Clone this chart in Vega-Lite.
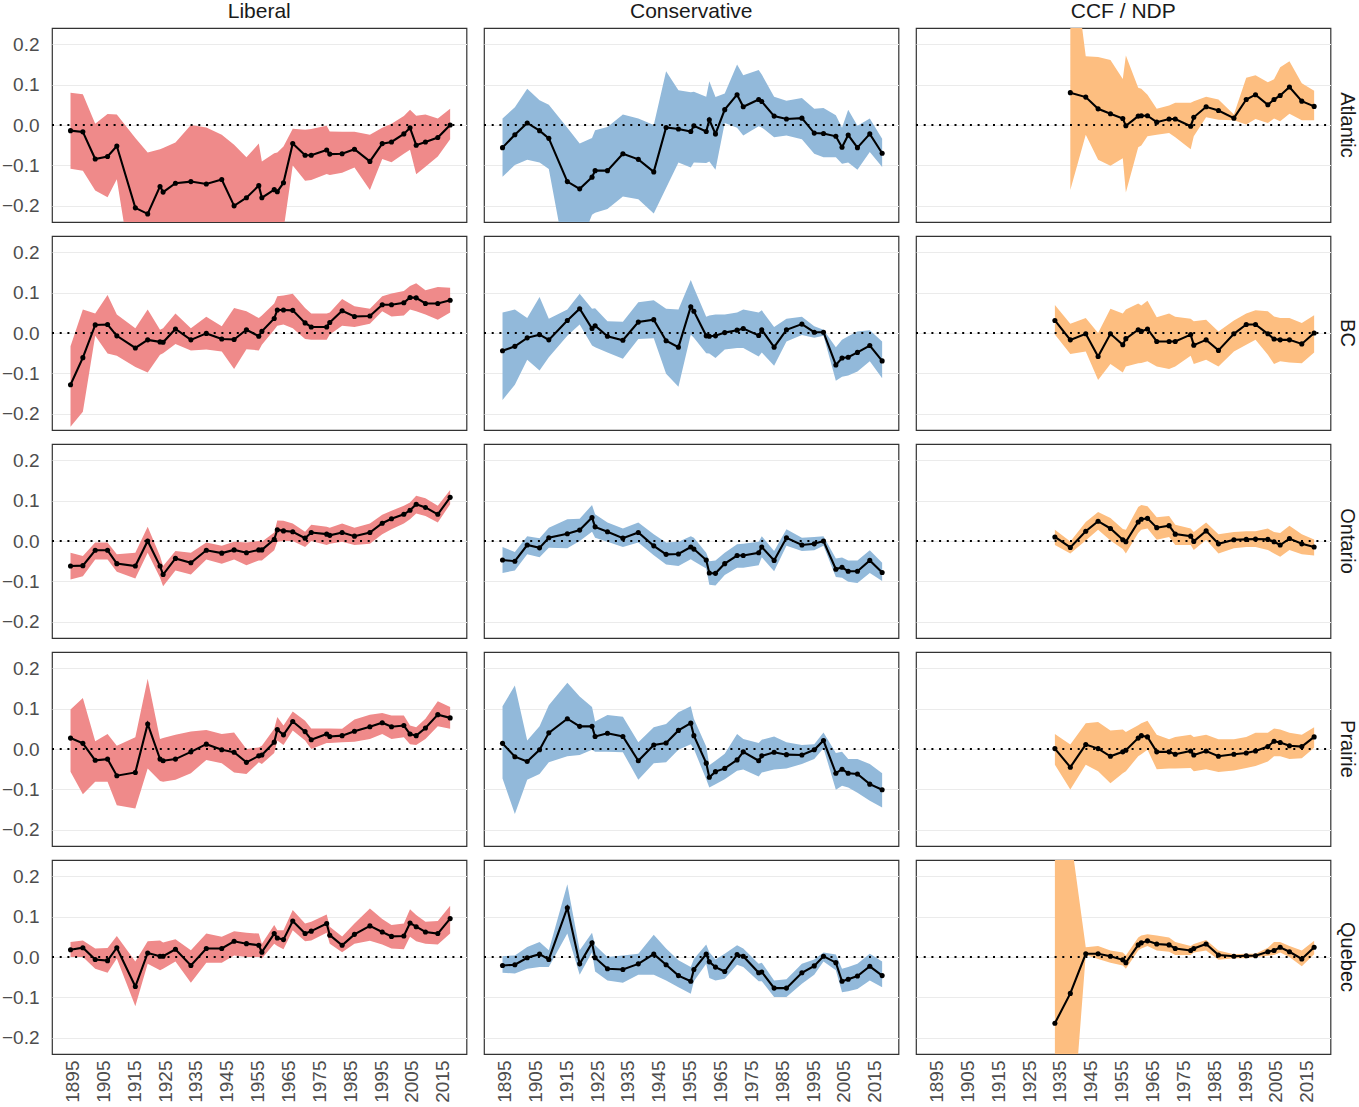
{
"$schema": "https://vega.github.io/schema/vega-lite/v6.json",
"background": "white",
"padding": {"left": 1, "right": 0, "top": 1, "bottom": 2},
"config": {
 "font": "Liberation Sans",
 "view": {"stroke": "#333333", "strokeWidth": 1.2},
 "axis": {"labelFont": "Liberation Sans", "labelFontSize": 19, "labelColor": "#4d4d4d", "ticks": false, "domain": false, "labelFlush": false, "labelOverlap": false},
 "header": {"labelFont": "Liberation Sans", "labelFontSize": 21, "labelColor": "#1a1a1a"}
},
"data": {"values": [
{"party":"Liberal","region":"Atlantic","year":1896,"est":-0.014,"lo":-0.108,"hi":0.08},
{"party":"Liberal","region":"Atlantic","year":1900,"est":-0.017,"lo":-0.113,"hi":0.076},
{"party":"Liberal","region":"Atlantic","year":1904,"est":-0.084,"lo":-0.162,"hi":0.003},
{"party":"Liberal","region":"Atlantic","year":1908,"est":-0.078,"lo":-0.179,"hi":0.027},
{"party":"Liberal","region":"Atlantic","year":1911,"est":-0.052,"lo":-0.134,"hi":0.026},
{"party":"Liberal","region":"Atlantic","year":1917,"est":-0.205,"lo":-0.42,"hi":-0.032},
{"party":"Liberal","region":"Atlantic","year":1921,"est":-0.22,"lo":-0.4,"hi":-0.068},
{"party":"Liberal","region":"Atlantic","year":1925,"est":-0.152,"lo":-0.4,"hi":-0.06},
{"party":"Liberal","region":"Atlantic","year":1926,"est":-0.166,"lo":-0.4,"hi":-0.057},
{"party":"Liberal","region":"Atlantic","year":1930,"est":-0.144,"lo":-0.4,"hi":-0.043},
{"party":"Liberal","region":"Atlantic","year":1935,"est":-0.14,"lo":-0.4,"hi":0.0},
{"party":"Liberal","region":"Atlantic","year":1940,"est":-0.146,"lo":-0.4,"hi":-0.006},
{"party":"Liberal","region":"Atlantic","year":1945,"est":-0.135,"lo":-0.4,"hi":-0.024},
{"party":"Liberal","region":"Atlantic","year":1949,"est":-0.2,"lo":-0.4,"hi":-0.049},
{"party":"Liberal","region":"Atlantic","year":1953,"est":-0.18,"lo":-0.4,"hi":-0.08},
{"party":"Liberal","region":"Atlantic","year":1957,"est":-0.15,"lo":-0.4,"hi":-0.046},
{"party":"Liberal","region":"Atlantic","year":1958,"est":-0.18,"lo":-0.4,"hi":-0.09},
{"party":"Liberal","region":"Atlantic","year":1962,"est":-0.16,"lo":-0.4,"hi":-0.07},
{"party":"Liberal","region":"Atlantic","year":1963,"est":-0.165,"lo":-0.4,"hi":-0.068},
{"party":"Liberal","region":"Atlantic","year":1965,"est":-0.143,"lo":-0.26,"hi":-0.053},
{"party":"Liberal","region":"Atlantic","year":1968,"est":-0.046,"lo":-0.1,"hi":-0.009},
{"party":"Liberal","region":"Atlantic","year":1972,"est":-0.075,"lo":-0.138,"hi":-0.012},
{"party":"Liberal","region":"Atlantic","year":1974,"est":-0.075,"lo":-0.136,"hi":-0.01},
{"party":"Liberal","region":"Atlantic","year":1979,"est":-0.062,"lo":-0.121,"hi":-0.002},
{"party":"Liberal","region":"Atlantic","year":1980,"est":-0.072,"lo":-0.124,"hi":-0.016},
{"party":"Liberal","region":"Atlantic","year":1984,"est":-0.071,"lo":-0.118,"hi":-0.017},
{"party":"Liberal","region":"Atlantic","year":1988,"est":-0.06,"lo":-0.105,"hi":-0.017},
{"party":"Liberal","region":"Atlantic","year":1993,"est":-0.09,"lo":-0.161,"hi":-0.024},
{"party":"Liberal","region":"Atlantic","year":1997,"est":-0.046,"lo":-0.084,"hi":-0.007},
{"party":"Liberal","region":"Atlantic","year":2000,"est":-0.042,"lo":-0.092,"hi":0.003},
{"party":"Liberal","region":"Atlantic","year":2004,"est":-0.022,"lo":-0.071,"hi":0.022},
{"party":"Liberal","region":"Atlantic","year":2006,"est":-0.007,"lo":-0.061,"hi":0.038},
{"party":"Liberal","region":"Atlantic","year":2008,"est":-0.05,"lo":-0.122,"hi":0.023},
{"party":"Liberal","region":"Atlantic","year":2011,"est":-0.042,"lo":-0.103,"hi":0.026},
{"party":"Liberal","region":"Atlantic","year":2015,"est":-0.031,"lo":-0.078,"hi":0.016},
{"party":"Liberal","region":"Atlantic","year":2019,"est":0.0,"lo":-0.035,"hi":0.04},
{"party":"Conservative","region":"Atlantic","year":1896,"est":-0.056,"lo":-0.128,"hi":0.016},
{"party":"Conservative","region":"Atlantic","year":1900,"est":-0.024,"lo":-0.099,"hi":0.044},
{"party":"Conservative","region":"Atlantic","year":1904,"est":0.005,"lo":-0.086,"hi":0.09},
{"party":"Conservative","region":"Atlantic","year":1908,"est":-0.014,"lo":-0.093,"hi":0.061},
{"party":"Conservative","region":"Atlantic","year":1911,"est":-0.033,"lo":-0.109,"hi":0.05},
{"party":"Conservative","region":"Atlantic","year":1917,"est":-0.14,"lo":-0.355,"hi":-0.007},
{"party":"Conservative","region":"Atlantic","year":1921,"est":-0.158,"lo":-0.3,"hi":-0.046},
{"party":"Conservative","region":"Atlantic","year":1925,"est":-0.129,"lo":-0.222,"hi":-0.032},
{"party":"Conservative","region":"Atlantic","year":1926,"est":-0.113,"lo":-0.217,"hi":-0.013},
{"party":"Conservative","region":"Atlantic","year":1930,"est":-0.113,"lo":-0.208,"hi":-0.005},
{"party":"Conservative","region":"Atlantic","year":1935,"est":-0.071,"lo":-0.177,"hi":0.026},
{"party":"Conservative","region":"Atlantic","year":1940,"est":-0.085,"lo":-0.184,"hi":0.016},
{"party":"Conservative","region":"Atlantic","year":1945,"est":-0.116,"lo":-0.219,"hi":0.0},
{"party":"Conservative","region":"Atlantic","year":1949,"est":-0.006,"lo":-0.156,"hi":0.133},
{"party":"Conservative","region":"Atlantic","year":1953,"est":-0.01,"lo":-0.093,"hi":0.086},
{"party":"Conservative","region":"Atlantic","year":1957,"est":-0.016,"lo":-0.105,"hi":0.081},
{"party":"Conservative","region":"Atlantic","year":1958,"est":-0.002,"lo":-0.093,"hi":0.082},
{"party":"Conservative","region":"Atlantic","year":1962,"est":-0.016,"lo":-0.094,"hi":0.07},
{"party":"Conservative","region":"Atlantic","year":1963,"est":0.013,"lo":-0.09,"hi":0.108},
{"party":"Conservative","region":"Atlantic","year":1965,"est":-0.022,"lo":-0.111,"hi":0.069},
{"party":"Conservative","region":"Atlantic","year":1968,"est":0.038,"lo":0.005,"hi":0.078},
{"party":"Conservative","region":"Atlantic","year":1972,"est":0.075,"lo":-0.007,"hi":0.15},
{"party":"Conservative","region":"Atlantic","year":1974,"est":0.045,"lo":-0.026,"hi":0.123},
{"party":"Conservative","region":"Atlantic","year":1979,"est":0.063,"lo":-0.003,"hi":0.136},
{"party":"Conservative","region":"Atlantic","year":1980,"est":0.058,"lo":-0.006,"hi":0.125},
{"party":"Conservative","region":"Atlantic","year":1984,"est":0.022,"lo":-0.03,"hi":0.07},
{"party":"Conservative","region":"Atlantic","year":1988,"est":0.015,"lo":-0.026,"hi":0.06},
{"party":"Conservative","region":"Atlantic","year":1993,"est":0.017,"lo":-0.035,"hi":0.067},
{"party":"Conservative","region":"Atlantic","year":1997,"est":-0.02,"lo":-0.071,"hi":0.04},
{"party":"Conservative","region":"Atlantic","year":2000,"est":-0.021,"lo":-0.08,"hi":0.042},
{"party":"Conservative","region":"Atlantic","year":2004,"est":-0.028,"lo":-0.08,"hi":0.024},
{"party":"Conservative","region":"Atlantic","year":2006,"est":-0.055,"lo":-0.096,"hi":-0.007},
{"party":"Conservative","region":"Atlantic","year":2008,"est":-0.025,"lo":-0.093,"hi":0.038},
{"party":"Conservative","region":"Atlantic","year":2011,"est":-0.056,"lo":-0.111,"hi":-0.002},
{"party":"Conservative","region":"Atlantic","year":2015,"est":-0.022,"lo":-0.067,"hi":0.016},
{"party":"Conservative","region":"Atlantic","year":2019,"est":-0.07,"lo":-0.104,"hi":-0.034},
{"party":"CCF / NDP","region":"Atlantic","year":1940,"est":0.08,"lo":-0.161,"hi":0.47},
{"party":"CCF / NDP","region":"Atlantic","year":1945,"est":0.069,"lo":-0.024,"hi":0.17},
{"party":"CCF / NDP","region":"Atlantic","year":1949,"est":0.04,"lo":-0.086,"hi":0.168},
{"party":"CCF / NDP","region":"Atlantic","year":1953,"est":0.028,"lo":-0.101,"hi":0.161},
{"party":"CCF / NDP","region":"Atlantic","year":1957,"est":0.016,"lo":-0.082,"hi":0.114},
{"party":"CCF / NDP","region":"Atlantic","year":1958,"est":-0.002,"lo":-0.167,"hi":0.172},
{"party":"CCF / NDP","region":"Atlantic","year":1962,"est":0.022,"lo":-0.055,"hi":0.092},
{"party":"CCF / NDP","region":"Atlantic","year":1963,"est":0.023,"lo":-0.051,"hi":0.09},
{"party":"CCF / NDP","region":"Atlantic","year":1965,"est":0.023,"lo":-0.028,"hi":0.075},
{"party":"CCF / NDP","region":"Atlantic","year":1968,"est":0.007,"lo":-0.024,"hi":0.04},
{"party":"CCF / NDP","region":"Atlantic","year":1972,"est":0.015,"lo":-0.02,"hi":0.048},
{"party":"CCF / NDP","region":"Atlantic","year":1974,"est":0.015,"lo":-0.03,"hi":0.055},
{"party":"CCF / NDP","region":"Atlantic","year":1979,"est":-0.003,"lo":-0.06,"hi":0.055},
{"party":"CCF / NDP","region":"Atlantic","year":1980,"est":0.019,"lo":-0.028,"hi":0.059},
{"party":"CCF / NDP","region":"Atlantic","year":1984,"est":0.045,"lo":0.019,"hi":0.07},
{"party":"CCF / NDP","region":"Atlantic","year":1988,"est":0.036,"lo":0.013,"hi":0.063},
{"party":"CCF / NDP","region":"Atlantic","year":1993,"est":0.017,"lo":0.012,"hi":0.026},
{"party":"CCF / NDP","region":"Atlantic","year":1997,"est":0.063,"lo":0.001,"hi":0.117},
{"party":"CCF / NDP","region":"Atlantic","year":2000,"est":0.075,"lo":0.015,"hi":0.123},
{"party":"CCF / NDP","region":"Atlantic","year":2004,"est":0.05,"lo":0.005,"hi":0.106},
{"party":"CCF / NDP","region":"Atlantic","year":2006,"est":0.063,"lo":0.016,"hi":0.113},
{"party":"CCF / NDP","region":"Atlantic","year":2008,"est":0.073,"lo":0.009,"hi":0.143},
{"party":"CCF / NDP","region":"Atlantic","year":2011,"est":0.094,"lo":0.028,"hi":0.158},
{"party":"CCF / NDP","region":"Atlantic","year":2015,"est":0.059,"lo":0.012,"hi":0.103},
{"party":"CCF / NDP","region":"Atlantic","year":2019,"est":0.046,"lo":0.012,"hi":0.085},
{"party":"Liberal","region":"BC","year":1896,"est":-0.128,"lo":-0.232,"hi":-0.033},
{"party":"Liberal","region":"BC","year":1900,"est":-0.061,"lo":-0.195,"hi":0.058},
{"party":"Liberal","region":"BC","year":1904,"est":0.02,"lo":-0.007,"hi":0.048},
{"party":"Liberal","region":"BC","year":1908,"est":0.021,"lo":-0.051,"hi":0.094},
{"party":"Liberal","region":"BC","year":1911,"est":-0.007,"lo":-0.056,"hi":0.046},
{"party":"Liberal","region":"BC","year":1917,"est":-0.037,"lo":-0.084,"hi":0.012},
{"party":"Liberal","region":"BC","year":1921,"est":-0.017,"lo":-0.098,"hi":0.058},
{"party":"Liberal","region":"BC","year":1925,"est":-0.022,"lo":-0.054,"hi":0.008},
{"party":"Liberal","region":"BC","year":1926,"est":-0.023,"lo":-0.05,"hi":0.012},
{"party":"Liberal","region":"BC","year":1930,"est":0.01,"lo":-0.027,"hi":0.048},
{"party":"Liberal","region":"BC","year":1935,"est":-0.017,"lo":-0.043,"hi":0.012},
{"party":"Liberal","region":"BC","year":1940,"est":-0.001,"lo":-0.041,"hi":0.04},
{"party":"Liberal","region":"BC","year":1945,"est":-0.015,"lo":-0.046,"hi":0.017},
{"party":"Liberal","region":"BC","year":1949,"est":-0.016,"lo":-0.089,"hi":0.062},
{"party":"Liberal","region":"BC","year":1953,"est":0.008,"lo":-0.04,"hi":0.054},
{"party":"Liberal","region":"BC","year":1957,"est":-0.008,"lo":-0.043,"hi":0.037},
{"party":"Liberal","region":"BC","year":1958,"est":0.004,"lo":-0.029,"hi":0.043},
{"party":"Liberal","region":"BC","year":1962,"est":0.036,"lo":0.008,"hi":0.073},
{"party":"Liberal","region":"BC","year":1963,"est":0.057,"lo":0.018,"hi":0.091},
{"party":"Liberal","region":"BC","year":1965,"est":0.057,"lo":0.021,"hi":0.093},
{"party":"Liberal","region":"BC","year":1968,"est":0.056,"lo":0.012,"hi":0.097},
{"party":"Liberal","region":"BC","year":1972,"est":0.025,"lo":-0.015,"hi":0.062},
{"party":"Liberal","region":"BC","year":1974,"est":0.015,"lo":-0.017,"hi":0.048},
{"party":"Liberal","region":"BC","year":1979,"est":0.015,"lo":-0.017,"hi":0.048},
{"party":"Liberal","region":"BC","year":1980,"est":0.026,"lo":-0.004,"hi":0.051},
{"party":"Liberal","region":"BC","year":1984,"est":0.055,"lo":0.018,"hi":0.084},
{"party":"Liberal","region":"BC","year":1988,"est":0.041,"lo":0.015,"hi":0.066},
{"party":"Liberal","region":"BC","year":1993,"est":0.042,"lo":0.023,"hi":0.06},
{"party":"Liberal","region":"BC","year":1997,"est":0.07,"lo":0.054,"hi":0.091},
{"party":"Liberal","region":"BC","year":2000,"est":0.07,"lo":0.041,"hi":0.098},
{"party":"Liberal","region":"BC","year":2004,"est":0.075,"lo":0.043,"hi":0.104},
{"party":"Liberal","region":"BC","year":2006,"est":0.088,"lo":0.058,"hi":0.116},
{"party":"Liberal","region":"BC","year":2008,"est":0.087,"lo":0.054,"hi":0.123},
{"party":"Liberal","region":"BC","year":2011,"est":0.073,"lo":0.046,"hi":0.106},
{"party":"Liberal","region":"BC","year":2015,"est":0.073,"lo":0.033,"hi":0.114},
{"party":"Liberal","region":"BC","year":2019,"est":0.081,"lo":0.051,"hi":0.112},
{"party":"Conservative","region":"BC","year":1896,"est":-0.044,"lo":-0.166,"hi":0.051},
{"party":"Conservative","region":"BC","year":1900,"est":-0.033,"lo":-0.128,"hi":0.058},
{"party":"Conservative","region":"BC","year":1904,"est":-0.012,"lo":-0.066,"hi":0.037},
{"party":"Conservative","region":"BC","year":1908,"est":-0.004,"lo":-0.093,"hi":0.089},
{"party":"Conservative","region":"BC","year":1911,"est":-0.017,"lo":-0.06,"hi":0.035},
{"party":"Conservative","region":"BC","year":1917,"est":0.031,"lo":-0.007,"hi":0.058},
{"party":"Conservative","region":"BC","year":1921,"est":0.06,"lo":0.021,"hi":0.097},
{"party":"Conservative","region":"BC","year":1925,"est":0.011,"lo":-0.031,"hi":0.06},
{"party":"Conservative","region":"BC","year":1926,"est":0.018,"lo":-0.035,"hi":0.061},
{"party":"Conservative","region":"BC","year":1930,"est":-0.008,"lo":-0.048,"hi":0.029},
{"party":"Conservative","region":"BC","year":1935,"est":-0.018,"lo":-0.064,"hi":0.028},
{"party":"Conservative","region":"BC","year":1940,"est":0.027,"lo":-0.015,"hi":0.076},
{"party":"Conservative","region":"BC","year":1945,"est":0.033,"lo":-0.013,"hi":0.081},
{"party":"Conservative","region":"BC","year":1949,"est":-0.019,"lo":-0.101,"hi":0.06},
{"party":"Conservative","region":"BC","year":1953,"est":-0.035,"lo":-0.133,"hi":0.058},
{"party":"Conservative","region":"BC","year":1957,"est":0.065,"lo":-0.004,"hi":0.131},
{"party":"Conservative","region":"BC","year":1958,"est":0.054,"lo":-0.012,"hi":0.112},
{"party":"Conservative","region":"BC","year":1962,"est":-0.007,"lo":-0.05,"hi":0.04},
{"party":"Conservative","region":"BC","year":1963,"est":-0.008,"lo":-0.051,"hi":0.043},
{"party":"Conservative","region":"BC","year":1965,"est":-0.007,"lo":-0.062,"hi":0.046},
{"party":"Conservative","region":"BC","year":1968,"est":0.001,"lo":-0.041,"hi":0.046},
{"party":"Conservative","region":"BC","year":1972,"est":0.007,"lo":-0.037,"hi":0.051},
{"party":"Conservative","region":"BC","year":1974,"est":0.011,"lo":-0.037,"hi":0.058},
{"party":"Conservative","region":"BC","year":1979,"est":-0.006,"lo":-0.058,"hi":0.051},
{"party":"Conservative","region":"BC","year":1980,"est":0.008,"lo":-0.048,"hi":0.056},
{"party":"Conservative","region":"BC","year":1984,"est":-0.035,"lo":-0.081,"hi":0.015},
{"party":"Conservative","region":"BC","year":1988,"est":0.008,"lo":-0.021,"hi":0.035},
{"party":"Conservative","region":"BC","year":1993,"est":0.022,"lo":-0.005,"hi":0.04},
{"party":"Conservative","region":"BC","year":1997,"est":0.002,"lo":-0.012,"hi":0.017},
{"party":"Conservative","region":"BC","year":2000,"est":0.002,"lo":-0.007,"hi":0.008},
{"party":"Conservative","region":"BC","year":2004,"est":-0.079,"lo":-0.118,"hi":-0.035},
{"party":"Conservative","region":"BC","year":2006,"est":-0.062,"lo":-0.108,"hi":-0.017},
{"party":"Conservative","region":"BC","year":2008,"est":-0.06,"lo":-0.105,"hi":-0.008},
{"party":"Conservative","region":"BC","year":2011,"est":-0.048,"lo":-0.095,"hi":0.004},
{"party":"Conservative","region":"BC","year":2015,"est":-0.031,"lo":-0.07,"hi":0.007},
{"party":"Conservative","region":"BC","year":2019,"est":-0.069,"lo":-0.112,"hi":-0.021},
{"party":"CCF / NDP","region":"BC","year":1935,"est":0.031,"lo":-0.004,"hi":0.069},
{"party":"CCF / NDP","region":"BC","year":1940,"est":-0.017,"lo":-0.052,"hi":0.023},
{"party":"CCF / NDP","region":"BC","year":1945,"est":-0.002,"lo":-0.046,"hi":0.037},
{"party":"CCF / NDP","region":"BC","year":1949,"est":-0.058,"lo":-0.116,"hi":0.0},
{"party":"CCF / NDP","region":"BC","year":1953,"est":-0.002,"lo":-0.077,"hi":0.06},
{"party":"CCF / NDP","region":"BC","year":1957,"est":-0.029,"lo":-0.098,"hi":0.048},
{"party":"CCF / NDP","region":"BC","year":1958,"est":-0.014,"lo":-0.083,"hi":0.058},
{"party":"CCF / NDP","region":"BC","year":1962,"est":0.008,"lo":-0.075,"hi":0.073},
{"party":"CCF / NDP","region":"BC","year":1963,"est":0.004,"lo":-0.074,"hi":0.068},
{"party":"CCF / NDP","region":"BC","year":1965,"est":0.01,"lo":-0.07,"hi":0.08},
{"party":"CCF / NDP","region":"BC","year":1968,"est":-0.021,"lo":-0.083,"hi":0.039},
{"party":"CCF / NDP","region":"BC","year":1972,"est":-0.021,"lo":-0.089,"hi":0.048},
{"party":"CCF / NDP","region":"BC","year":1974,"est":-0.021,"lo":-0.083,"hi":0.04},
{"party":"CCF / NDP","region":"BC","year":1979,"est":-0.004,"lo":-0.056,"hi":0.035},
{"party":"CCF / NDP","region":"BC","year":1980,"est":-0.03,"lo":-0.077,"hi":0.029},
{"party":"CCF / NDP","region":"BC","year":1984,"est":-0.017,"lo":-0.066,"hi":0.033},
{"party":"CCF / NDP","region":"BC","year":1988,"est":-0.043,"lo":-0.083,"hi":0.004},
{"party":"CCF / NDP","region":"BC","year":1993,"est":-0.002,"lo":-0.046,"hi":0.031},
{"party":"CCF / NDP","region":"BC","year":1997,"est":0.021,"lo":-0.029,"hi":0.048},
{"party":"CCF / NDP","region":"BC","year":2000,"est":0.021,"lo":-0.017,"hi":0.056},
{"party":"CCF / NDP","region":"BC","year":2004,"est":-0.002,"lo":-0.054,"hi":0.054},
{"party":"CCF / NDP","region":"BC","year":2006,"est":-0.015,"lo":-0.077,"hi":0.041},
{"party":"CCF / NDP","region":"BC","year":2008,"est":-0.017,"lo":-0.07,"hi":0.037},
{"party":"CCF / NDP","region":"BC","year":2011,"est":-0.017,"lo":-0.073,"hi":0.037},
{"party":"CCF / NDP","region":"BC","year":2015,"est":-0.027,"lo":-0.075,"hi":0.025},
{"party":"CCF / NDP","region":"BC","year":2019,"est":0.0,"lo":-0.048,"hi":0.044},
{"party":"Liberal","region":"Ontario","year":1896,"est":-0.062,"lo":-0.095,"hi":-0.029},
{"party":"Liberal","region":"Ontario","year":1900,"est":-0.061,"lo":-0.087,"hi":-0.037},
{"party":"Liberal","region":"Ontario","year":1904,"est":-0.023,"lo":-0.046,"hi":-0.004},
{"party":"Liberal","region":"Ontario","year":1908,"est":-0.023,"lo":-0.046,"hi":-0.004},
{"party":"Liberal","region":"Ontario","year":1911,"est":-0.056,"lo":-0.076,"hi":-0.033},
{"party":"Liberal","region":"Ontario","year":1917,"est":-0.062,"lo":-0.093,"hi":-0.029},
{"party":"Liberal","region":"Ontario","year":1921,"est":0.0,"lo":-0.029,"hi":0.035},
{"party":"Liberal","region":"Ontario","year":1925,"est":-0.062,"lo":-0.091,"hi":-0.037},
{"party":"Liberal","region":"Ontario","year":1926,"est":-0.083,"lo":-0.112,"hi":-0.062},
{"party":"Liberal","region":"Ontario","year":1930,"est":-0.043,"lo":-0.073,"hi":-0.025},
{"party":"Liberal","region":"Ontario","year":1935,"est":-0.054,"lo":-0.083,"hi":-0.029},
{"party":"Liberal","region":"Ontario","year":1940,"est":-0.023,"lo":-0.046,"hi":-0.004},
{"party":"Liberal","region":"Ontario","year":1945,"est":-0.03,"lo":-0.056,"hi":-0.012},
{"party":"Liberal","region":"Ontario","year":1949,"est":-0.022,"lo":-0.046,"hi":-0.002},
{"party":"Liberal","region":"Ontario","year":1953,"est":-0.029,"lo":-0.06,"hi":-0.004},
{"party":"Liberal","region":"Ontario","year":1957,"est":-0.022,"lo":-0.048,"hi":0.0},
{"party":"Liberal","region":"Ontario","year":1958,"est":-0.022,"lo":-0.048,"hi":-0.002},
{"party":"Liberal","region":"Ontario","year":1962,"est":0.004,"lo":-0.023,"hi":0.021},
{"party":"Liberal","region":"Ontario","year":1963,"est":0.028,"lo":-0.002,"hi":0.051},
{"party":"Liberal","region":"Ontario","year":1965,"est":0.025,"lo":0.0,"hi":0.05},
{"party":"Liberal","region":"Ontario","year":1968,"est":0.023,"lo":0.0,"hi":0.043},
{"party":"Liberal","region":"Ontario","year":1972,"est":0.007,"lo":-0.015,"hi":0.023},
{"party":"Liberal","region":"Ontario","year":1974,"est":0.021,"lo":0.0,"hi":0.04},
{"party":"Liberal","region":"Ontario","year":1979,"est":0.017,"lo":-0.01,"hi":0.035},
{"party":"Liberal","region":"Ontario","year":1980,"est":0.014,"lo":-0.007,"hi":0.033},
{"party":"Liberal","region":"Ontario","year":1984,"est":0.021,"lo":-0.002,"hi":0.043},
{"party":"Liberal","region":"Ontario","year":1988,"est":0.012,"lo":-0.01,"hi":0.033},
{"party":"Liberal","region":"Ontario","year":1993,"est":0.021,"lo":-0.007,"hi":0.043},
{"party":"Liberal","region":"Ontario","year":1997,"est":0.044,"lo":0.017,"hi":0.065},
{"party":"Liberal","region":"Ontario","year":2000,"est":0.055,"lo":0.029,"hi":0.075},
{"party":"Liberal","region":"Ontario","year":2004,"est":0.066,"lo":0.043,"hi":0.087},
{"party":"Liberal","region":"Ontario","year":2006,"est":0.076,"lo":0.054,"hi":0.095},
{"party":"Liberal","region":"Ontario","year":2008,"est":0.091,"lo":0.068,"hi":0.112},
{"party":"Liberal","region":"Ontario","year":2011,"est":0.083,"lo":0.062,"hi":0.106},
{"party":"Liberal","region":"Ontario","year":2015,"est":0.066,"lo":0.046,"hi":0.087},
{"party":"Liberal","region":"Ontario","year":2019,"est":0.108,"lo":0.091,"hi":0.126},
{"party":"Conservative","region":"Ontario","year":1896,"est":-0.047,"lo":-0.079,"hi":-0.015},
{"party":"Conservative","region":"Ontario","year":1900,"est":-0.05,"lo":-0.073,"hi":-0.027},
{"party":"Conservative","region":"Ontario","year":1904,"est":-0.01,"lo":-0.033,"hi":0.012},
{"party":"Conservative","region":"Ontario","year":1908,"est":-0.017,"lo":-0.04,"hi":0.007},
{"party":"Conservative","region":"Ontario","year":1911,"est":0.008,"lo":-0.017,"hi":0.033},
{"party":"Conservative","region":"Ontario","year":1917,"est":0.018,"lo":-0.018,"hi":0.054},
{"party":"Conservative","region":"Ontario","year":1921,"est":0.027,"lo":0.0,"hi":0.055},
{"party":"Conservative","region":"Ontario","year":1925,"est":0.058,"lo":0.023,"hi":0.089},
{"party":"Conservative","region":"Ontario","year":1926,"est":0.035,"lo":0.008,"hi":0.066},
{"party":"Conservative","region":"Ontario","year":1930,"est":0.023,"lo":-0.002,"hi":0.046},
{"party":"Conservative","region":"Ontario","year":1935,"est":0.007,"lo":-0.015,"hi":0.031},
{"party":"Conservative","region":"Ontario","year":1940,"est":0.021,"lo":-0.004,"hi":0.046},
{"party":"Conservative","region":"Ontario","year":1945,"est":-0.012,"lo":-0.035,"hi":0.017},
{"party":"Conservative","region":"Ontario","year":1949,"est":-0.033,"lo":-0.058,"hi":-0.004},
{"party":"Conservative","region":"Ontario","year":1953,"est":-0.032,"lo":-0.062,"hi":-0.002},
{"party":"Conservative","region":"Ontario","year":1957,"est":-0.015,"lo":-0.045,"hi":0.012},
{"party":"Conservative","region":"Ontario","year":1958,"est":-0.02,"lo":-0.05,"hi":0.008},
{"party":"Conservative","region":"Ontario","year":1962,"est":-0.047,"lo":-0.068,"hi":-0.029},
{"party":"Conservative","region":"Ontario","year":1963,"est":-0.079,"lo":-0.108,"hi":-0.05},
{"party":"Conservative","region":"Ontario","year":1965,"est":-0.08,"lo":-0.11,"hi":-0.048},
{"party":"Conservative","region":"Ontario","year":1968,"est":-0.056,"lo":-0.084,"hi":-0.029},
{"party":"Conservative","region":"Ontario","year":1972,"est":-0.036,"lo":-0.066,"hi":-0.008},
{"party":"Conservative","region":"Ontario","year":1974,"est":-0.036,"lo":-0.066,"hi":-0.007},
{"party":"Conservative","region":"Ontario","year":1979,"est":-0.029,"lo":-0.06,"hi":-0.002},
{"party":"Conservative","region":"Ontario","year":1980,"est":-0.015,"lo":-0.04,"hi":0.012},
{"party":"Conservative","region":"Ontario","year":1984,"est":-0.048,"lo":-0.075,"hi":-0.025},
{"party":"Conservative","region":"Ontario","year":1988,"est":0.008,"lo":-0.012,"hi":0.029},
{"party":"Conservative","region":"Ontario","year":1993,"est":-0.01,"lo":-0.025,"hi":0.008},
{"party":"Conservative","region":"Ontario","year":1997,"est":-0.007,"lo":-0.023,"hi":0.01},
{"party":"Conservative","region":"Ontario","year":2000,"est":0.0,"lo":-0.012,"hi":0.012},
{"party":"Conservative","region":"Ontario","year":2004,"est":-0.07,"lo":-0.089,"hi":-0.043},
{"party":"Conservative","region":"Ontario","year":2006,"est":-0.065,"lo":-0.091,"hi":-0.041},
{"party":"Conservative","region":"Ontario","year":2008,"est":-0.075,"lo":-0.101,"hi":-0.048},
{"party":"Conservative","region":"Ontario","year":2011,"est":-0.075,"lo":-0.104,"hi":-0.048},
{"party":"Conservative","region":"Ontario","year":2015,"est":-0.048,"lo":-0.079,"hi":-0.023},
{"party":"Conservative","region":"Ontario","year":2019,"est":-0.078,"lo":-0.099,"hi":-0.054},
{"party":"CCF / NDP","region":"Ontario","year":1935,"est":0.01,"lo":-0.01,"hi":0.028},
{"party":"CCF / NDP","region":"Ontario","year":1940,"est":-0.016,"lo":-0.031,"hi":-0.001},
{"party":"CCF / NDP","region":"Ontario","year":1945,"est":0.024,"lo":0.001,"hi":0.047},
{"party":"CCF / NDP","region":"Ontario","year":1949,"est":0.049,"lo":0.028,"hi":0.072},
{"party":"CCF / NDP","region":"Ontario","year":1953,"est":0.031,"lo":0.001,"hi":0.057},
{"party":"CCF / NDP","region":"Ontario","year":1957,"est":0.003,"lo":-0.02,"hi":0.03},
{"party":"CCF / NDP","region":"Ontario","year":1958,"est":-0.002,"lo":-0.031,"hi":0.028},
{"party":"CCF / NDP","region":"Ontario","year":1962,"est":0.047,"lo":0.02,"hi":0.084},
{"party":"CCF / NDP","region":"Ontario","year":1963,"est":0.054,"lo":0.028,"hi":0.089},
{"party":"CCF / NDP","region":"Ontario","year":1965,"est":0.056,"lo":0.031,"hi":0.086},
{"party":"CCF / NDP","region":"Ontario","year":1968,"est":0.033,"lo":0.003,"hi":0.059},
{"party":"CCF / NDP","region":"Ontario","year":1972,"est":0.038,"lo":0.01,"hi":0.062},
{"party":"CCF / NDP","region":"Ontario","year":1974,"est":0.017,"lo":-0.01,"hi":0.04},
{"party":"CCF / NDP","region":"Ontario","year":1979,"est":0.012,"lo":-0.01,"hi":0.031},
{"party":"CCF / NDP","region":"Ontario","year":1980,"est":-0.001,"lo":-0.022,"hi":0.022},
{"party":"CCF / NDP","region":"Ontario","year":1984,"est":0.025,"lo":0.003,"hi":0.046},
{"party":"CCF / NDP","region":"Ontario","year":1988,"est":-0.007,"lo":-0.031,"hi":0.017},
{"party":"CCF / NDP","region":"Ontario","year":1993,"est":0.003,"lo":-0.018,"hi":0.022},
{"party":"CCF / NDP","region":"Ontario","year":1997,"est":0.004,"lo":-0.015,"hi":0.024},
{"party":"CCF / NDP","region":"Ontario","year":2000,"est":0.005,"lo":-0.015,"hi":0.024},
{"party":"CCF / NDP","region":"Ontario","year":2004,"est":0.004,"lo":-0.022,"hi":0.031},
{"party":"CCF / NDP","region":"Ontario","year":2006,"est":-0.002,"lo":-0.031,"hi":0.022},
{"party":"CCF / NDP","region":"Ontario","year":2008,"est":-0.01,"lo":-0.039,"hi":0.02},
{"party":"CCF / NDP","region":"Ontario","year":2011,"est":0.006,"lo":-0.022,"hi":0.038},
{"party":"CCF / NDP","region":"Ontario","year":2015,"est":-0.007,"lo":-0.033,"hi":0.017},
{"party":"CCF / NDP","region":"Ontario","year":2019,"est":-0.015,"lo":-0.036,"hi":0.004},
{"party":"Liberal","region":"Prairie","year":1896,"est":0.027,"lo":-0.056,"hi":0.098},
{"party":"Liberal","region":"Prairie","year":1900,"est":0.014,"lo":-0.112,"hi":0.126},
{"party":"Liberal","region":"Prairie","year":1904,"est":-0.028,"lo":-0.081,"hi":0.019},
{"party":"Liberal","region":"Prairie","year":1908,"est":-0.025,"lo":-0.081,"hi":0.037},
{"party":"Liberal","region":"Prairie","year":1911,"est":-0.066,"lo":-0.139,"hi":0.008},
{"party":"Liberal","region":"Prairie","year":1917,"est":-0.058,"lo":-0.147,"hi":0.029},
{"party":"Liberal","region":"Prairie","year":1921,"est":0.062,"lo":-0.048,"hi":0.174},
{"party":"Liberal","region":"Prairie","year":1925,"est":-0.025,"lo":-0.079,"hi":0.025},
{"party":"Liberal","region":"Prairie","year":1926,"est":-0.029,"lo":-0.081,"hi":0.027},
{"party":"Liberal","region":"Prairie","year":1930,"est":-0.025,"lo":-0.076,"hi":0.035},
{"party":"Liberal","region":"Prairie","year":1935,"est":-0.007,"lo":-0.06,"hi":0.043},
{"party":"Liberal","region":"Prairie","year":1940,"est":0.012,"lo":-0.027,"hi":0.047},
{"party":"Liberal","region":"Prairie","year":1945,"est":-0.002,"lo":-0.035,"hi":0.037},
{"party":"Liberal","region":"Prairie","year":1949,"est":-0.008,"lo":-0.058,"hi":0.041},
{"party":"Liberal","region":"Prairie","year":1953,"est":-0.033,"lo":-0.062,"hi":0.0},
{"party":"Liberal","region":"Prairie","year":1957,"est":-0.017,"lo":-0.033,"hi":0.004},
{"party":"Liberal","region":"Prairie","year":1958,"est":-0.015,"lo":-0.037,"hi":0.008},
{"party":"Liberal","region":"Prairie","year":1962,"est":0.017,"lo":-0.01,"hi":0.05},
{"party":"Liberal","region":"Prairie","year":1963,"est":0.048,"lo":0.021,"hi":0.079},
{"party":"Liberal","region":"Prairie","year":1965,"est":0.035,"lo":0.01,"hi":0.058},
{"party":"Liberal","region":"Prairie","year":1968,"est":0.068,"lo":0.046,"hi":0.093},
{"party":"Liberal","region":"Prairie","year":1972,"est":0.043,"lo":0.021,"hi":0.07},
{"party":"Liberal","region":"Prairie","year":1974,"est":0.023,"lo":0.0,"hi":0.051},
{"party":"Liberal","region":"Prairie","year":1979,"est":0.037,"lo":0.015,"hi":0.051},
{"party":"Liberal","region":"Prairie","year":1980,"est":0.031,"lo":0.015,"hi":0.051},
{"party":"Liberal","region":"Prairie","year":1984,"est":0.033,"lo":0.017,"hi":0.05},
{"party":"Liberal","region":"Prairie","year":1988,"est":0.044,"lo":0.018,"hi":0.073},
{"party":"Liberal","region":"Prairie","year":1993,"est":0.055,"lo":0.025,"hi":0.085},
{"party":"Liberal","region":"Prairie","year":1997,"est":0.065,"lo":0.037,"hi":0.089},
{"party":"Liberal","region":"Prairie","year":2000,"est":0.055,"lo":0.025,"hi":0.083},
{"party":"Liberal","region":"Prairie","year":2004,"est":0.058,"lo":0.029,"hi":0.083},
{"party":"Liberal","region":"Prairie","year":2006,"est":0.037,"lo":0.012,"hi":0.058},
{"party":"Liberal","region":"Prairie","year":2008,"est":0.033,"lo":0.01,"hi":0.054},
{"party":"Liberal","region":"Prairie","year":2011,"est":0.052,"lo":0.025,"hi":0.075},
{"party":"Liberal","region":"Prairie","year":2015,"est":0.085,"lo":0.056,"hi":0.118},
{"party":"Liberal","region":"Prairie","year":2019,"est":0.077,"lo":0.05,"hi":0.104},
{"party":"Conservative","region":"Prairie","year":1896,"est":0.014,"lo":-0.073,"hi":0.106},
{"party":"Conservative","region":"Prairie","year":1900,"est":-0.019,"lo":-0.161,"hi":0.157},
{"party":"Conservative","region":"Prairie","year":1904,"est":-0.031,"lo":-0.076,"hi":0.021},
{"party":"Conservative","region":"Prairie","year":1908,"est":-0.002,"lo":-0.062,"hi":0.056},
{"party":"Conservative","region":"Prairie","year":1911,"est":0.04,"lo":-0.033,"hi":0.108},
{"party":"Conservative","region":"Prairie","year":1917,"est":0.075,"lo":-0.018,"hi":0.164},
{"party":"Conservative","region":"Prairie","year":1921,"est":0.056,"lo":-0.015,"hi":0.13},
{"party":"Conservative","region":"Prairie","year":1925,"est":0.056,"lo":-0.002,"hi":0.104},
{"party":"Conservative","region":"Prairie","year":1926,"est":0.031,"lo":-0.007,"hi":0.068},
{"party":"Conservative","region":"Prairie","year":1930,"est":0.039,"lo":-0.007,"hi":0.084},
{"party":"Conservative","region":"Prairie","year":1935,"est":0.031,"lo":-0.008,"hi":0.08},
{"party":"Conservative","region":"Prairie","year":1940,"est":-0.029,"lo":-0.076,"hi":0.017},
{"party":"Conservative","region":"Prairie","year":1945,"est":0.01,"lo":-0.035,"hi":0.054},
{"party":"Conservative","region":"Prairie","year":1949,"est":0.015,"lo":-0.033,"hi":0.062},
{"party":"Conservative","region":"Prairie","year":1953,"est":0.046,"lo":-0.002,"hi":0.091},
{"party":"Conservative","region":"Prairie","year":1957,"est":0.064,"lo":0.012,"hi":0.106},
{"party":"Conservative","region":"Prairie","year":1958,"est":0.033,"lo":0.0,"hi":0.075},
{"party":"Conservative","region":"Prairie","year":1962,"est":-0.035,"lo":-0.075,"hi":0.006},
{"party":"Conservative","region":"Prairie","year":1963,"est":-0.07,"lo":-0.095,"hi":-0.04},
{"party":"Conservative","region":"Prairie","year":1965,"est":-0.056,"lo":-0.087,"hi":-0.029},
{"party":"Conservative","region":"Prairie","year":1968,"est":-0.048,"lo":-0.075,"hi":-0.012},
{"party":"Conservative","region":"Prairie","year":1972,"est":-0.027,"lo":-0.054,"hi":0.037},
{"party":"Conservative","region":"Prairie","year":1974,"est":-0.007,"lo":-0.051,"hi":0.025},
{"party":"Conservative","region":"Prairie","year":1979,"est":-0.029,"lo":-0.068,"hi":0.015},
{"party":"Conservative","region":"Prairie","year":1980,"est":-0.017,"lo":-0.058,"hi":0.023},
{"party":"Conservative","region":"Prairie","year":1984,"est":-0.008,"lo":-0.051,"hi":0.031},
{"party":"Conservative","region":"Prairie","year":1988,"est":-0.014,"lo":-0.048,"hi":0.017},
{"party":"Conservative","region":"Prairie","year":1993,"est":-0.015,"lo":-0.037,"hi":0.01},
{"party":"Conservative","region":"Prairie","year":1997,"est":-0.002,"lo":-0.025,"hi":0.012},
{"party":"Conservative","region":"Prairie","year":2000,"est":0.021,"lo":0.002,"hi":0.041},
{"party":"Conservative","region":"Prairie","year":2004,"est":-0.06,"lo":-0.101,"hi":-0.01},
{"party":"Conservative","region":"Prairie","year":2006,"est":-0.05,"lo":-0.091,"hi":-0.007},
{"party":"Conservative","region":"Prairie","year":2008,"est":-0.06,"lo":-0.095,"hi":-0.025},
{"party":"Conservative","region":"Prairie","year":2011,"est":-0.062,"lo":-0.108,"hi":-0.025},
{"party":"Conservative","region":"Prairie","year":2015,"est":-0.087,"lo":-0.128,"hi":-0.037},
{"party":"Conservative","region":"Prairie","year":2019,"est":-0.101,"lo":-0.145,"hi":-0.06},
{"party":"CCF / NDP","region":"Prairie","year":1935,"est":0.001,"lo":-0.039,"hi":0.037},
{"party":"CCF / NDP","region":"Prairie","year":1940,"est":-0.045,"lo":-0.1,"hi":0.011},
{"party":"CCF / NDP","region":"Prairie","year":1945,"est":0.011,"lo":-0.039,"hi":0.064},
{"party":"CCF / NDP","region":"Prairie","year":1949,"est":0.001,"lo":-0.055,"hi":0.067},
{"party":"CCF / NDP","region":"Prairie","year":1953,"est":-0.018,"lo":-0.085,"hi":0.046},
{"party":"CCF / NDP","region":"Prairie","year":1957,"est":-0.007,"lo":-0.06,"hi":0.048},
{"party":"CCF / NDP","region":"Prairie","year":1958,"est":-0.003,"lo":-0.055,"hi":0.042},
{"party":"CCF / NDP","region":"Prairie","year":1962,"est":0.027,"lo":-0.018,"hi":0.059},
{"party":"CCF / NDP","region":"Prairie","year":1963,"est":0.033,"lo":-0.013,"hi":0.064},
{"party":"CCF / NDP","region":"Prairie","year":1965,"est":0.03,"lo":-0.002,"hi":0.07},
{"party":"CCF / NDP","region":"Prairie","year":1968,"est":-0.007,"lo":-0.05,"hi":0.035},
{"party":"CCF / NDP","region":"Prairie","year":1972,"est":-0.007,"lo":-0.048,"hi":0.024},
{"party":"CCF / NDP","region":"Prairie","year":1974,"est":-0.013,"lo":-0.048,"hi":0.03},
{"party":"CCF / NDP","region":"Prairie","year":1979,"est":-0.005,"lo":-0.047,"hi":0.035},
{"party":"CCF / NDP","region":"Prairie","year":1980,"est":-0.015,"lo":-0.055,"hi":0.03},
{"party":"CCF / NDP","region":"Prairie","year":1984,"est":-0.005,"lo":-0.05,"hi":0.035},
{"party":"CCF / NDP","region":"Prairie","year":1988,"est":-0.018,"lo":-0.057,"hi":0.024},
{"party":"CCF / NDP","region":"Prairie","year":1993,"est":-0.013,"lo":-0.053,"hi":0.024},
{"party":"CCF / NDP","region":"Prairie","year":1997,"est":-0.01,"lo":-0.047,"hi":0.03},
{"party":"CCF / NDP","region":"Prairie","year":2000,"est":-0.005,"lo":-0.042,"hi":0.04},
{"party":"CCF / NDP","region":"Prairie","year":2004,"est":0.006,"lo":-0.031,"hi":0.04},
{"party":"CCF / NDP","region":"Prairie","year":2006,"est":0.019,"lo":-0.018,"hi":0.051},
{"party":"CCF / NDP","region":"Prairie","year":2008,"est":0.016,"lo":-0.018,"hi":0.048},
{"party":"CCF / NDP","region":"Prairie","year":2011,"est":0.008,"lo":-0.025,"hi":0.04},
{"party":"CCF / NDP","region":"Prairie","year":2015,"est":0.006,"lo":-0.023,"hi":0.035},
{"party":"CCF / NDP","region":"Prairie","year":2019,"est":0.03,"lo":0.003,"hi":0.054},
{"party":"Liberal","region":"Quebec","year":1896,"est":0.018,"lo":0.0,"hi":0.037},
{"party":"Liberal","region":"Quebec","year":1900,"est":0.023,"lo":0.0,"hi":0.041},
{"party":"Liberal","region":"Quebec","year":1904,"est":-0.006,"lo":-0.029,"hi":0.021},
{"party":"Liberal","region":"Quebec","year":1908,"est":-0.009,"lo":-0.039,"hi":0.022},
{"party":"Liberal","region":"Quebec","year":1911,"est":0.023,"lo":-0.004,"hi":0.052},
{"party":"Liberal","region":"Quebec","year":1917,"est":-0.073,"lo":-0.122,"hi":-0.011},
{"party":"Liberal","region":"Quebec","year":1921,"est":0.01,"lo":-0.017,"hi":0.039},
{"party":"Liberal","region":"Quebec","year":1925,"est":0.002,"lo":-0.033,"hi":0.041},
{"party":"Liberal","region":"Quebec","year":1926,"est":0.002,"lo":-0.029,"hi":0.036},
{"party":"Liberal","region":"Quebec","year":1930,"est":0.019,"lo":-0.011,"hi":0.044},
{"party":"Liberal","region":"Quebec","year":1935,"est":-0.021,"lo":-0.064,"hi":0.017},
{"party":"Liberal","region":"Quebec","year":1940,"est":0.021,"lo":-0.014,"hi":0.058},
{"party":"Liberal","region":"Quebec","year":1945,"est":0.021,"lo":-0.014,"hi":0.05},
{"party":"Liberal","region":"Quebec","year":1949,"est":0.039,"lo":0.004,"hi":0.064},
{"party":"Liberal","region":"Quebec","year":1953,"est":0.033,"lo":0.0,"hi":0.06},
{"party":"Liberal","region":"Quebec","year":1957,"est":0.029,"lo":0.0,"hi":0.058},
{"party":"Liberal","region":"Quebec","year":1958,"est":0.012,"lo":-0.004,"hi":0.033},
{"party":"Liberal","region":"Quebec","year":1962,"est":0.058,"lo":0.033,"hi":0.079},
{"party":"Liberal","region":"Quebec","year":1963,"est":0.047,"lo":0.027,"hi":0.066},
{"party":"Liberal","region":"Quebec","year":1965,"est":0.043,"lo":0.019,"hi":0.066},
{"party":"Liberal","region":"Quebec","year":1968,"est":0.089,"lo":0.066,"hi":0.116},
{"party":"Liberal","region":"Quebec","year":1972,"est":0.058,"lo":0.039,"hi":0.083},
{"party":"Liberal","region":"Quebec","year":1974,"est":0.064,"lo":0.041,"hi":0.087},
{"party":"Liberal","region":"Quebec","year":1979,"est":0.083,"lo":0.06,"hi":0.105},
{"party":"Liberal","region":"Quebec","year":1980,"est":0.054,"lo":0.033,"hi":0.075},
{"party":"Liberal","region":"Quebec","year":1984,"est":0.029,"lo":0.012,"hi":0.051},
{"party":"Liberal","region":"Quebec","year":1988,"est":0.056,"lo":0.033,"hi":0.083},
{"party":"Liberal","region":"Quebec","year":1993,"est":0.077,"lo":0.04,"hi":0.12},
{"party":"Liberal","region":"Quebec","year":1997,"est":0.062,"lo":0.031,"hi":0.094},
{"party":"Liberal","region":"Quebec","year":2000,"est":0.051,"lo":0.021,"hi":0.079},
{"party":"Liberal","region":"Quebec","year":2004,"est":0.052,"lo":0.019,"hi":0.083},
{"party":"Liberal","region":"Quebec","year":2006,"est":0.084,"lo":0.05,"hi":0.118},
{"party":"Liberal","region":"Quebec","year":2008,"est":0.075,"lo":0.039,"hi":0.104},
{"party":"Liberal","region":"Quebec","year":2011,"est":0.062,"lo":0.033,"hi":0.087},
{"party":"Liberal","region":"Quebec","year":2015,"est":0.058,"lo":0.031,"hi":0.089},
{"party":"Liberal","region":"Quebec","year":2019,"est":0.095,"lo":0.058,"hi":0.127},
{"party":"Conservative","region":"Quebec","year":1896,"est":-0.021,"lo":-0.039,"hi":0.002},
{"party":"Conservative","region":"Quebec","year":1900,"est":-0.019,"lo":-0.041,"hi":0.004},
{"party":"Conservative","region":"Quebec","year":1904,"est":-0.002,"lo":-0.029,"hi":0.025},
{"party":"Conservative","region":"Quebec","year":1908,"est":0.007,"lo":-0.025,"hi":0.037},
{"party":"Conservative","region":"Quebec","year":1911,"est":-0.006,"lo":-0.025,"hi":0.017},
{"party":"Conservative","region":"Quebec","year":1917,"est":0.122,"lo":0.058,"hi":0.18},
{"party":"Conservative","region":"Quebec","year":1921,"est":-0.017,"lo":-0.044,"hi":0.017},
{"party":"Conservative","region":"Quebec","year":1925,"est":0.035,"lo":0.012,"hi":0.06},
{"party":"Conservative","region":"Quebec","year":1926,"est":-0.002,"lo":-0.036,"hi":0.029},
{"party":"Conservative","region":"Quebec","year":1930,"est":-0.029,"lo":-0.058,"hi":0.0},
{"party":"Conservative","region":"Quebec","year":1935,"est":-0.031,"lo":-0.064,"hi":0.004},
{"party":"Conservative","region":"Quebec","year":1940,"est":-0.017,"lo":-0.044,"hi":0.008},
{"party":"Conservative","region":"Quebec","year":1945,"est":0.007,"lo":-0.044,"hi":0.055},
{"party":"Conservative","region":"Quebec","year":1949,"est":-0.019,"lo":-0.058,"hi":0.021},
{"party":"Conservative","region":"Quebec","year":1953,"est":-0.046,"lo":-0.075,"hi":-0.008},
{"party":"Conservative","region":"Quebec","year":1957,"est":-0.06,"lo":-0.091,"hi":-0.025},
{"party":"Conservative","region":"Quebec","year":1958,"est":-0.031,"lo":-0.06,"hi":-0.005},
{"party":"Conservative","region":"Quebec","year":1962,"est":0.007,"lo":-0.017,"hi":0.031},
{"party":"Conservative","region":"Quebec","year":1963,"est":-0.012,"lo":-0.052,"hi":0.012},
{"party":"Conservative","region":"Quebec","year":1965,"est":-0.025,"lo":-0.058,"hi":-0.006},
{"party":"Conservative","region":"Quebec","year":1968,"est":-0.036,"lo":-0.054,"hi":0.008},
{"party":"Conservative","region":"Quebec","year":1972,"est":0.006,"lo":-0.019,"hi":0.029},
{"party":"Conservative","region":"Quebec","year":1974,"est":0.002,"lo":-0.025,"hi":0.021},
{"party":"Conservative","region":"Quebec","year":1979,"est":-0.039,"lo":-0.06,"hi":-0.017},
{"party":"Conservative","region":"Quebec","year":1980,"est":-0.037,"lo":-0.06,"hi":-0.014},
{"party":"Conservative","region":"Quebec","year":1984,"est":-0.077,"lo":-0.099,"hi":-0.058},
{"party":"Conservative","region":"Quebec","year":1988,"est":-0.077,"lo":-0.099,"hi":-0.055},
{"party":"Conservative","region":"Quebec","year":1993,"est":-0.039,"lo":-0.066,"hi":-0.017},
{"party":"Conservative","region":"Quebec","year":1997,"est":-0.022,"lo":-0.044,"hi":-0.006},
{"party":"Conservative","region":"Quebec","year":2000,"est":0.002,"lo":-0.011,"hi":0.011},
{"party":"Conservative","region":"Quebec","year":2004,"est":-0.014,"lo":-0.033,"hi":0.006},
{"party":"Conservative","region":"Quebec","year":2006,"est":-0.06,"lo":-0.087,"hi":-0.029},
{"party":"Conservative","region":"Quebec","year":2008,"est":-0.055,"lo":-0.085,"hi":-0.025},
{"party":"Conservative","region":"Quebec","year":2011,"est":-0.047,"lo":-0.079,"hi":-0.017},
{"party":"Conservative","region":"Quebec","year":2015,"est":-0.023,"lo":-0.058,"hi":0.008},
{"party":"Conservative","region":"Quebec","year":2019,"est":-0.046,"lo":-0.075,"hi":-0.011},
{"party":"CCF / NDP","region":"Quebec","year":1935,"est":-0.164,"lo":-0.5,"hi":0.4},
{"party":"CCF / NDP","region":"Quebec","year":1940,"est":-0.09,"lo":-0.493,"hi":0.305},
{"party":"CCF / NDP","region":"Quebec","year":1945,"est":0.008,"lo":0.005,"hi":0.024},
{"party":"CCF / NDP","region":"Quebec","year":1949,"est":0.008,"lo":-0.005,"hi":0.027},
{"party":"CCF / NDP","region":"Quebec","year":1953,"est":0.002,"lo":-0.014,"hi":0.016},
{"party":"CCF / NDP","region":"Quebec","year":1957,"est":-0.007,"lo":-0.021,"hi":0.011},
{"party":"CCF / NDP","region":"Quebec","year":1958,"est":-0.014,"lo":-0.029,"hi":0.004},
{"party":"CCF / NDP","region":"Quebec","year":1962,"est":0.03,"lo":0.016,"hi":0.048},
{"party":"CCF / NDP","region":"Quebec","year":1963,"est":0.035,"lo":0.021,"hi":0.053},
{"party":"CCF / NDP","region":"Quebec","year":1965,"est":0.04,"lo":0.027,"hi":0.056},
{"party":"CCF / NDP","region":"Quebec","year":1968,"est":0.032,"lo":0.016,"hi":0.053},
{"party":"CCF / NDP","region":"Quebec","year":1972,"est":0.03,"lo":0.013,"hi":0.048},
{"party":"CCF / NDP","region":"Quebec","year":1974,"est":0.021,"lo":0.005,"hi":0.037},
{"party":"CCF / NDP","region":"Quebec","year":1979,"est":0.016,"lo":0.005,"hi":0.027},
{"party":"CCF / NDP","region":"Quebec","year":1980,"est":0.021,"lo":0.011,"hi":0.032},
{"party":"CCF / NDP","region":"Quebec","year":1984,"est":0.032,"lo":0.016,"hi":0.042},
{"party":"CCF / NDP","region":"Quebec","year":1988,"est":0.005,"lo":-0.007,"hi":0.016},
{"party":"CCF / NDP","region":"Quebec","year":1993,"est":0.002,"lo":-0.003,"hi":0.007},
{"party":"CCF / NDP","region":"Quebec","year":1997,"est":0.003,"lo":-0.003,"hi":0.008},
{"party":"CCF / NDP","region":"Quebec","year":2000,"est":0.003,"lo":0.0,"hi":0.008},
{"party":"CCF / NDP","region":"Quebec","year":2004,"est":0.013,"lo":0.003,"hi":0.023},
{"party":"CCF / NDP","region":"Quebec","year":2006,"est":0.016,"lo":0.005,"hi":0.037},
{"party":"CCF / NDP","region":"Quebec","year":2008,"est":0.024,"lo":0.011,"hi":0.037},
{"party":"CCF / NDP","region":"Quebec","year":2011,"est":0.013,"lo":0.0,"hi":0.027},
{"party":"CCF / NDP","region":"Quebec","year":2015,"est":-0.005,"lo":-0.023,"hi":0.016},
{"party":"CCF / NDP","region":"Quebec","year":2019,"est":0.024,"lo":0.007,"hi":0.04}
]},
"spacing": {"row": 12, "column": 13},
"facet": {
 "row": {"field": "region", "type": "nominal", "sort": ["Atlantic", "BC", "Ontario", "Prairie", "Quebec"], "header": {"title": null, "labelAngle": 90, "labelOrient": "right", "labelPadding": 4, "labelFontSize": 20}},
 "column": {"field": "party", "type": "nominal", "sort": ["Liberal", "Conservative", "CCF / NDP"], "header": {"title": null, "labelPadding": 5}}
},
"spec": {
 "width": 414.5,
 "height": 194,
 "encoding": {
  "x": {"field": "year", "type": "quantitative", "title": null, "scale": {"domain": [1890.0, 2024.3], "nice": false, "zero": false},
        "axis": {"values": [1895, 1905, 1915, 1925, 1935, 1945, 1955, 1965, 1975, 1985, 1995, 2005, 2015], "format": "d", "labelAngle": -90, "grid": false, "labelPadding": 5, "labelOffset": 5}}
 },
 "layer": [
  {"mark": {"type": "area", "clip": true, "opacity": 1},
   "encoding": {
    "y": {"field": "lo", "type": "quantitative", "title": null, "scale": {"domain": [-0.24, 0.24], "nice": false, "zero": false},
          "axis": {"values": [-0.2, -0.15, -0.1, -0.05, 0, 0.05, 0.1, 0.15, 0.2], "labelExpr": "abs(round(datum.value*100)) % 10 == 0 ? format(datum.value, '.1f') : ''", "grid": true, "gridColor": "#EBEBEB", "gridWidth": {"condition": {"test": "abs(round(datum.value*100)) % 10 == 0", "value": 1.2}, "value": 0.7}, "labelPadding": 11}},
    "y2": {"field": "hi"},
    "color": {"field": "party", "type": "nominal", "scale": {"domain": ["Liberal", "Conservative", "CCF / NDP"], "range": ["#EF8A8A", "#92B9DA", "#FDBE80"]}, "legend": null}
   }},
  {"transform": [{"filter": "datum.year == 2019"}],
   "mark": {"type": "rule", "strokeDash": [2, 5.7], "strokeWidth": 2, "color": "black"},
   "encoding": {"x": {"datum": 1890.0}, "x2": {"datum": 2024.3}, "y": {"datum": 0}}},
  {"mark": {"type": "line", "color": "black", "strokeWidth": 2.1, "clip": true},
   "encoding": {"y": {"field": "est", "type": "quantitative", "title": null}}},
  {"mark": {"type": "point", "filled": true, "color": "black", "size": 26, "opacity": 1, "clip": true},
   "encoding": {"y": {"field": "est", "type": "quantitative", "title": null}}}
 ]
}
}
